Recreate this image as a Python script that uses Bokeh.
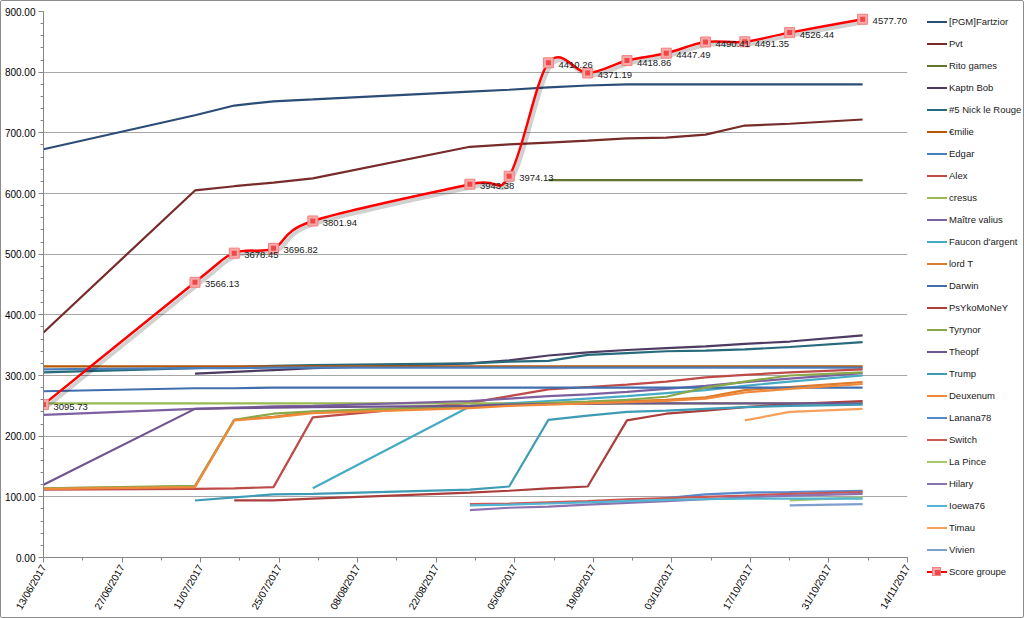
import math
from datetime import datetime
from bokeh.plotting import figure
from bokeh.layouts import row
from bokeh.models import (ColumnDataSource, FixedTicker, NumeralTickFormatter, DatetimeTickFormatter,
                          SingleIntervalTicker, LabelSet, Div)
from bokeh.transform import dodge
from bokeh.core.properties import value
from bokeh.embed import file_html
from bokeh.resources import INLINE

N = float("nan")

dates = ["2017-06-13", "2017-07-10", "2017-07-17", "2017-07-24", "2017-07-31", "2017-08-28",
         "2017-09-04", "2017-09-11", "2017-09-18", "2017-09-25", "2017-10-02", "2017-10-09",
         "2017-10-16", "2017-10-24", "2017-11-06"]

tick_dates = ["2017-06-13", "2017-06-27", "2017-07-11", "2017-07-25", "2017-08-08", "2017-08-22",
              "2017-09-05", "2017-09-19", "2017-10-03", "2017-10-17", "2017-10-31", "2017-11-14"]

pgm = [673, 729, 745, 752, 755, 768, 771, 775, 778, 780, 780, 780, 780, 780, 780]
pvt = [371, 605, 612, 618, 625, 677, 681, 684, 687, 691, 692, 697, 712, 715, 722]
rito = [N, N, N, N, N, N, N, 622, 622, 622, 622, 622, 622, 622, 622]
kaptn = [N, 303, 306, 309, 312, 320, 325, 333, 338, 342, 345, 348, 352, 356, 366]
nick = [305, 312, 314, 316, 317, 320, 323, 324, 334, 337, 340, 341, 343, 347, 355]
emilie = [315, 315, 315, 315, 315, 315, 315, 315, 315, 315, 315, 315, 315, 315, 315]
edgar = [310, 312, 312, 313, 313, 313, 313, 313, 313, 313, 313, 313, 313, 313, 313]
alex = [112, 113, 114, 116, 231, 255, 266, 277, 281, 285, 290, 297, 301, 305, 310]
cresus = [254, 254, 254, 254, 254, 254, 254, 254, 254, 254, 254, 254, 254, 254, 254]
maitre = [235, 245, 247, 249, 250, 258, 262, 266, 269, 273, 278, 283, 289, 295, 304]
faucon = [N, N, N, N, 114, 249, 254, 258, 262, 266, 271, 276, 283, 290, 300]
lordt = [114, 117, 227, 232, 240, 248, 252, 254, 256, 258, 260, 264, 276, 281, 289]
darwin = [274, 279, 279, 280, 280, 280, 280, 280, 280, 280, 280, 280, 280, 280, 280]
psyko = [N, N, 94, 94, 97, 107, 110, 114, 117, 226, 237, 242, 248, 253, 258]
tyrynor = [114, 118, 227, 237, 241, 250, 253, 255, 257, 260, 265, 280, 290, 300, 305]
theopf = [120, 245, 246, 247, 248, 250, 252, 253, 253, 254, 254, 254, 254, 254, 254]
trump = [N, 94, 99, 104, 105, 112, 117, 227, 234, 240, 242, 245, 248, 250, 252]
deuxenum = [113, 116, 226, 231, 238, 246, 250, 252, 254, 256, 258, 262, 272, 278, 286]
lanana = [N, N, N, N, N, N, N, N, N, N, 98, 104, 107, 108, 110]
switch = [N, N, N, N, N, 88, 89, 91, 93, 96, 98, 100, 102, 105, 108]
lapince = [N, N, N, N, N, N, N, N, N, N, N, N, N, 94, 99]
hilary = [N, N, N, N, N, 78, 82, 84, 87, 90, 93, 96, 99, 102, 105]
ioewa = [N, N, N, N, N, 86, 87, 89, 91, 93, 95, 96, 97, 97, 97]
timau = [N, N, N, N, N, N, N, N, N, N, N, N, 226, 240, 245]
vivien = [N, N, N, N, N, N, N, N, N, N, N, N, N, 86, 88]

score_y = [252, 453.6, 501.7, 509.6, 554.7, 615.3, 628.5, 815.4, 798.7, 819.1, 831.3, 849.7, 850.1, 865.2, 887.2]
score_labels = ["3095.73", "3566.13", "3678.45", "3696.82", "3801.94", "3943.38", "3974.13", "4410.26",
                "4371.19", "4418.86", "4447.49", "4490.41", "4491.35", "4526.44", "4577.70"]

series = [
    ("[PGM]Fartzior", pgm, "#2C4D75"),
    ("Pvt", pvt, "#772C2A"),
    ("Rito games", rito, "#5F7530"),
    ("Kaptn Bob", kaptn, "#4D3B62"),
    ("#5 Nick le Rouge", nick, "#276A7C"),
    ("\u20acmilie", emilie, "#B65708"),
    ("Edgar", edgar, "#4A7EBB"),
    ("Alex", alex, "#BE4B48"),
    ("cresus", cresus, "#98B954"),
    ("Ma\u00eetre valius", maitre, "#7D60A0"),
    ("Faucon d'argent", faucon, "#46AAC5"),
    ("lord T", lordt, "#DE7B2C"),
    ("Darwin", darwin, "#3F6FAE"),
    ("PsYkoMoNeY", psyko, "#A93E3B"),
    ("Tyrynor", tyrynor, "#88A84A"),
    ("Theopf", theopf, "#6F5590"),
    ("Trump", trump, "#3E9BB5"),
    ("Deuxenum", deuxenum, "#F08A3A"),
    ("Lanana78", lanana, "#5588CC"),
    ("Switch", switch, "#CC5753"),
    ("La Pince", lapince, "#A6C86A"),
    ("Hilary", hilary, "#8D72B0"),
    ("Ioewa76", ioewa, "#52B5D1"),
    ("Timau", timau, "#F7A05C"),
    ("Vivien", vivien, "#7F9FCF"),
]

dt = [datetime.strptime(d, "%Y-%m-%d") for d in dates]
ms = [d.timestamp() * 1000 for d in dt]
DAY = 86400000.0

x_start = datetime(2017, 6, 13)
x_end = datetime(2017, 11, 14)

p = figure(width=920, height=616, x_axis_type="datetime", x_range=(x_start, x_end), y_range=(0, 900),
           output_backend="svg", toolbar_location=None,
           min_border_left=42, min_border_right=14, min_border_top=10, min_border_bottom=59)
p.outline_line_color = None
p.background_fill_color = "white"
p.border_fill_color = "white"

p.xgrid.visible = False
p.ygrid.grid_line_color = "#A6A6A6"
p.ygrid.grid_line_width = 1

major = [datetime.strptime(d, "%Y-%m-%d").timestamp() * 1000 for d in tick_dates]
minor = [m + 7 * DAY for m in major[:-1]] + major
p.xaxis.ticker = FixedTicker(ticks=major, minor_ticks=sorted(minor))
fmt = "%d/%m/%Y"
p.xaxis.formatter = DatetimeTickFormatter(milliseconds=fmt, seconds=fmt, minsec=fmt, minutes=fmt,
                                          hourmin=fmt, hours=fmt, days=fmt, months=fmt, years=fmt)
p.xaxis.major_label_orientation = math.pi / 3
p.yaxis.ticker = SingleIntervalTicker(interval=100, num_minor_ticks=5)
p.yaxis.formatter = NumeralTickFormatter(format="0.00")

for ax in (p.xaxis[0], p.yaxis[0]):
    ax.axis_line_color = "#868686"
    ax.major_tick_line_color = "#868686"
    ax.minor_tick_line_color = "#868686"
    ax.major_tick_in = 0
    ax.major_tick_out = 5
    ax.minor_tick_in = 0
    ax.minor_tick_out = 3
    ax.major_label_text_font = "Liberation Sans"
    ax.major_label_text_font_size = "10px"
    ax.major_label_text_color = "#000000"
    ax.major_label_standoff = 3

for name, vals, col in series:
    p.line(x=dt, y=vals, line_color=col, line_width=2.2)

# smoothed Score groupe curve (Bezier segments through the data points)
x0, y0, x1, y1, cx0, cy0, cx1, cy1 = [], [], [], [], [], [], [], []
n = len(ms)
for i in range(n - 1):
    pm = (ms[i - 1], score_y[i - 1]) if i > 0 else (ms[i], score_y[i])
    pa = (ms[i], score_y[i])
    pb = (ms[i + 1], score_y[i + 1])
    pn = (ms[i + 2], score_y[i + 2]) if i + 2 < n else (ms[i + 1], score_y[i + 1])
    x0.append(pa[0]); y0.append(pa[1]); x1.append(pb[0]); y1.append(pb[1])
    cx0.append(pa[0] + (pb[0] - pm[0]) / 6.0); cy0.append(pa[1] + (pb[1] - pm[1]) / 6.0)
    cx1.append(pb[0] - (pn[0] - pa[0]) / 6.0); cy1.append(pb[1] - (pn[1] - pa[1]) / 6.0)
bsrc = ColumnDataSource(dict(x0=x0, y0=y0, x1=x1, y1=y1, cx0=cx0, cy0=cy0, cx1=cx1, cy1=cy1))
sx = 0.45 * DAY
sy = -4.5
p.bezier(x0=dodge("x0", sx), y0=dodge("y0", sy), x1=dodge("x1", sx), y1=dodge("y1", sy),
         cx0=dodge("cx0", sx), cy0=dodge("cy0", sy), cx1=dodge("cx1", sx), cy1=dodge("cy1", sy),
         source=bsrc, line_color="#000000", line_alpha=0.18, line_width=4)
p.bezier(x0="x0", y0="y0", x1="x1", y1="y1", cx0="cx0", cy0="cy0", cx1="cx1", cy1="cy1",
         source=bsrc, line_color="#FF0000", line_width=2.5)

ssrc = ColumnDataSource(dict(x=dt, y=score_y, t=score_labels))
p.scatter(x="x", y="y", source=ssrc, marker="square", size=10, fill_color="#F7A8A8",
          line_color="#F28080", line_width=1)
p.scatter(x="x", y="y", source=ssrc, marker="square", size=5, fill_color="#F04848", line_color=None)
labels = LabelSet(x="x", y="y", text="t", source=ssrc, x_offset=10, y_offset=-5,
                  text_font=value("Liberation Sans"), text_font_size=value("9.5px"),
                  text_color="#1A1A1A")
p.add_layout(labels)

# legend (HTML panel to the right of the plot, Excel-style)
rows_html = []
legend_entries = [(name, col) for name, _, col in series]
for i, (name, col) in enumerate(legend_entries):
    rows_html.append(
        '<div style="position:absolute;left:6px;top:%dpx;height:22px;display:flex;align-items:center;">'
        '<span style="display:inline-block;width:20px;height:2px;background:%s;"></span>'
        '<span style="margin-left:2px;white-space:nowrap;color:#1A1A1A;">%s</span></div>'
        % (10 + 22 * i, col, name))
i = len(legend_entries)
rows_html.append(
    '<div style="position:absolute;left:6px;top:%dpx;height:22px;display:flex;align-items:center;">'
    '<span style="position:relative;display:inline-block;width:20px;height:2.5px;background:#FF0000;">'
    '<span style="position:absolute;left:5px;top:-4px;width:9px;height:9px;box-sizing:border-box;'
    'background:#F7A8A8;border:1px solid #F28080;"></span>'
    '<span style="position:absolute;left:7.5px;top:-1.25px;width:5px;height:5px;background:#F04848;"></span>'
    '</span>'
    '<span style="margin-left:2px;white-space:nowrap;color:#1A1A1A;">Score groupe</span></div>'
    % (10 + 22 * i))
legend_html = ('<div style="position:relative;width:102px;height:616px;font-family:\'Liberation Sans\';'
               'font-size:9.5px;line-height:22px;">' + "".join(rows_html) + '</div>')
leg = Div(text=legend_html, width=102, height=616, styles={"margin": "0", "padding": "0"})

layout = row(p, leg)
layout.styles = {"border": "1px solid #8C8C8C", "border-radius": "2px", "background": "white"}

open("out.html", "w").write(file_html(layout, INLINE))
